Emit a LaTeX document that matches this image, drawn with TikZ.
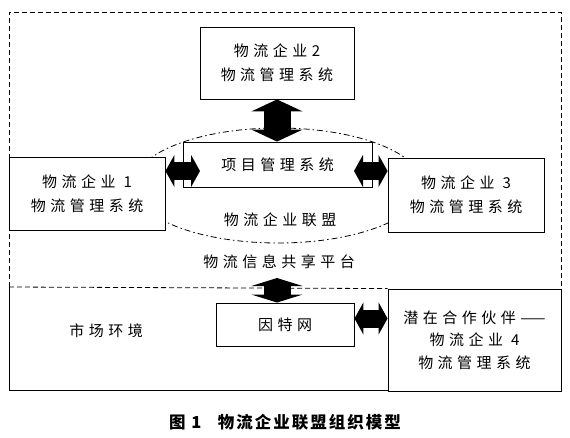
\documentclass[tikz,border=0pt]{standalone}
\usepackage{fontspec}
\setmainfont{Noto Sans CJK SC}
\newfontfamily\cjkwide[LetterSpace=30]{Noto Sans CJK SC}
\newfontfamily\cjkcap[LetterSpace=12]{Noto Sans CJK SC}
\usepackage{tikz}
\usetikzlibrary{arrows.meta}

\begin{document}
\begin{tikzpicture}[x=1pt,y=-1pt,
 firm/.style={draw, fill=white, line width=0.9pt, inner sep=0pt, align=center, minimum width=156pt, minimum height=73pt},
 sysbox/.style={draw, fill=white, line width=0.9pt, inner sep=0pt, align=center},
 label/.style={inner sep=0pt, align=center},
 vlink/.style={line width=27pt, {Triangle[width=51pt,length=12pt]}-{Triangle[width=51pt,length=12pt]}},
 vlinkshort/.style={line width=27pt, {Triangle[width=51pt,length=8pt]}-{Triangle[width=51pt,length=8pt]}},
 hlink/.style={line width=18pt, {Triangle[width=32pt,length=9pt]}-{Triangle[width=32pt,length=9pt]}},
 border/.style={line width=0.8pt, dash pattern=on 5pt off 3pt},
 alliance/.style={line width=0.8pt, dash pattern=on 6pt off 3pt on 1.5pt off 3pt},
 font=\cjkwide\fontsize{15}{24}\selectfont
]
\useasboundingbox (0,0) rectangle (570,437);

% frame of the platform and of the market
\draw[border] (9,287) -- (9,12) -- (561,12) -- (561,289);
\draw[line width=0.9pt] (9,287) -- (9,390) -- (561,390) -- (561,289);

\draw[alliance] (278,185.5) ellipse [x radius=145pt, y radius=57.5pt];

\node[firm]   (firm2) at (277,63)      [minimum width=154pt, minimum height=72pt] {物流企业2\\物流管理系统};
\node[firm]   (firm1) at (87,193.5)    {物流企业 1\\物流管理系统};
\node[firm]   (firm3) at (466,195)     [minimum height=74pt] {物流企业 3\\物流管理系统};
\node[sysbox] (proj)  at (277.5,164.5) [minimum width=189pt, minimum height=45pt] {项目管理系统};
\node[label]  (union) at (280,220)     {物流企业联盟};
\node[label]  (plat)  at (279,262)     {物流信息共享平台};
\node[sysbox] (net)   at (285,324.5)   [minimum width=138pt, minimum height=43pt] {因特网};
\node[firm]   (firm4) at (474.5,340)   [minimum width=173pt, minimum height=102pt, font=\cjkwide\fontsize{15}{22.5}\selectfont] {潜在合作伙伴——\\物流企业 4\\物流管理系统};
\node[label]  (market) at (106,331)    {市场环境};
\node[label]  (title) at (285,422)     [font=\cjkcap\bfseries\fontsize{16.5}{20}\selectfont] {图 1\quad 物流企业联盟组织模型};

\draw[border] (9,287) -- (firm4.north west);

\coordinate (ltip) at (200,171);
\coordinate (rtip) at (354,171);
\coordinate (ptop) at (277,278);
\coordinate (ntip) at ([yshift=6pt]net.east);

\draw[vlink] (firm2.south) -- (firm2.south |- proj.north);
\draw[hlink] (firm1.east |- ltip) -- (ltip);
\draw[hlink] (rtip) -- (firm3.west |- rtip);
\draw[vlinkshort] (ptop) -- (ptop |- net.north);
\draw[hlink] (ntip) -- (ntip -| firm4.west);
\end{tikzpicture}
\end{document}
